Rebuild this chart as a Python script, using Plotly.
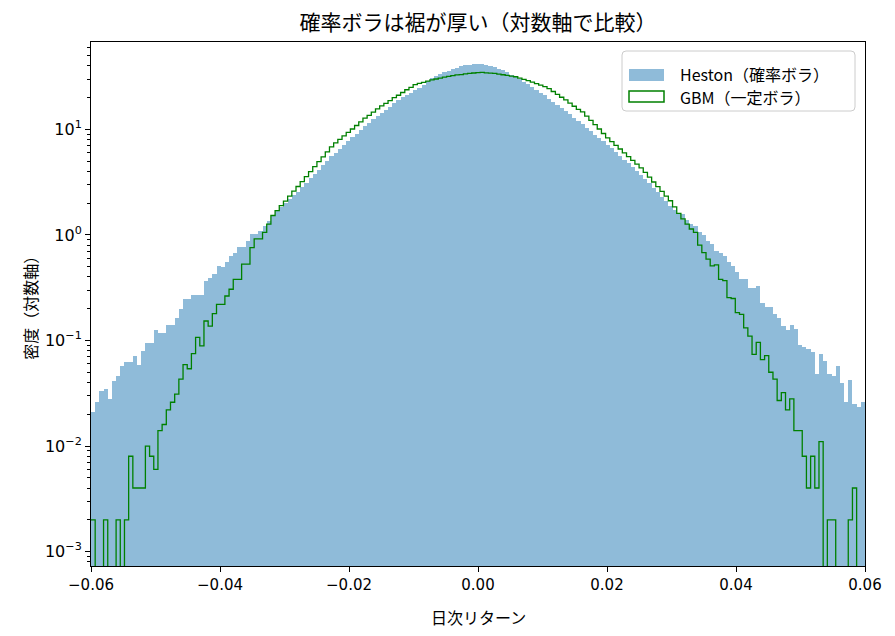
import numpy as np
import plotly.graph_objects as go

# histogram bins (daily return), 185 equal bins across the visible range
x_min, x_max, n_bins = -0.06, 0.06, 185

# density per bin
heston_density = [
    0.021, 0.026, 0.033, 0.035, 0.028, 0.041, 0.046, 0.057, 0.063, 0.063,
    0.071, 0.058, 0.079, 0.095, 0.095, 0.127, 0.119, 0.119, 0.141, 0.141,
    0.162, 0.20, 0.246, 0.246, 0.27, 0.27, 0.27, 0.367, 0.39, 0.43,
    0.51, 0.50, 0.557, 0.63, 0.68, 0.77, 0.77, 0.88, 1.02, 1.02,
    1.10, 1.23, 1.37, 1.56, 1.70, 1.86, 2.00, 2.19, 2.37, 2.57,
    2.85, 3.13, 3.47, 3.80, 4.17, 4.57, 5.01, 5.56, 6.03, 6.60,
    7.16, 7.76, 8.41, 9.12, 9.95, 10.8, 11.6, 12.5, 13.4, 14.4,
    15.4, 16.5, 17.7, 19.0, 20.1, 21.2, 22.4, 23.6, 24.9, 26.3,
    28.8, 30.9, 32.4, 33.5, 34.7, 35.9, 37.2, 38.5, 39.8, 40.7,
    41.2, 41.7, 41.9, 41.7, 41.2, 40.3, 38.9, 37.6, 36.3, 34.7,
    33.1, 31.6, 29.9, 28.2, 26.9, 25.1, 23.7, 22.4, 21.0, 19.6,
    18.3, 17.1, 15.9, 14.9, 13.9, 12.9, 12.1, 11.2, 10.4, 9.66,
    8.95, 8.32, 7.73, 7.18, 6.61, 6.10, 5.62, 5.18, 4.76, 4.39,
    4.05, 3.72, 3.39, 3.08, 2.79, 2.53, 2.30, 2.09, 1.89, 1.72,
    1.62, 1.58, 1.40, 1.27, 1.23, 1.06, 1.00, 0.88, 0.82, 0.71,
    0.68, 0.635, 0.55, 0.51, 0.45, 0.38, 0.38, 0.316, 0.316, 0.33,
    0.225, 0.21, 0.21, 0.177, 0.164, 0.137, 0.127, 0.139, 0.129, 0.090,
    0.087, 0.083, 0.077, 0.048, 0.074, 0.064, 0.048, 0.046, 0.057, 0.040,
    0.026, 0.042, 0.025, 0.0234, 0.026,
]

gbm_density = [
    0.002, 0, 0, 0.002, 0, 0, 0.002, 0, 0.002, 0.008,
    0.004, 0.004, 0.004, 0.010, 0.008, 0.006, 0.014, 0.016, 0.022, 0.026,
    0.031, 0.043, 0.059, 0.054, 0.075, 0.107, 0.089, 0.153, 0.137, 0.18,
    0.22, 0.22, 0.264, 0.306, 0.38, 0.38, 0.53, 0.53, 0.76, 0.92,
    0.92, 1.06, 1.27, 1.53, 1.70, 1.90, 2.09, 2.34, 2.60, 2.88,
    3.21, 3.58, 3.98, 4.45, 4.95, 5.51, 6.14, 6.84, 7.45, 8.04,
    8.69, 9.38, 10.1, 10.9, 11.8, 12.8, 13.6, 14.6, 15.7, 16.7,
    17.7, 18.8, 20.0, 21.1, 22.4, 23.8, 25.1, 26.6, 27.3, 28.0,
    28.7, 29.5, 30.1, 30.6, 31.3, 31.8, 32.4, 32.9, 33.1, 33.7,
    34.0, 34.3, 34.6, 34.7, 34.4, 34.2, 34.0, 33.5, 33.0, 32.6,
    32.1, 31.6, 30.7, 29.8, 29.0, 28.1, 27.2, 26.3, 25.5, 24.4,
    22.9, 21.5, 20.2, 19.1, 17.8, 16.6, 15.5, 14.7, 13.4, 12.2,
    11.1, 10.1, 9.16, 8.34, 7.67, 7.08, 6.53, 6.01, 5.53, 5.10,
    4.70, 4.33, 3.92, 3.53, 3.18, 2.87, 2.59, 2.34, 2.11, 1.85,
    1.60, 1.42, 1.27, 1.14, 1.06, 0.80, 0.68, 0.59, 0.51, 0.52,
    0.38, 0.37, 0.255, 0.25, 0.184, 0.177, 0.132, 0.11, 0.074, 0.096,
    0.066, 0.072, 0.05, 0.043, 0.027, 0.032, 0.022, 0.028, 0.014, 0.014,
    0.008, 0.004, 0.008, 0.004, 0.011, 0, 0.002, 0.002, 0, 0,
    0, 0.002, 0.004, 0, 0,
]

x_ticks = [-0.06, -0.04, -0.02, 0.0, 0.02, 0.04, 0.06]
y_tick_exps = [-3, -2, -1, 0, 1]

title = "確率ボラは裾が厚い（対数軸で比較）"
x_label = "日次リターン"
y_label = "密度（対数軸）"
heston_name = "Heston（確率ボラ）"
gbm_name = "GBM（一定ボラ）"

assert len(heston_density) == n_bins and len(gbm_density) == n_bins

JP_FONT = "Noto Sans CJK JP, sans-serif"
TICK_FONT = "DejaVu Sans, sans-serif"

edges = np.linspace(x_min, x_max, n_bins + 1)
centers = (edges[:-1] + edges[1:]) / 2
width = edges[1] - edges[0]

fig = go.Figure()

# Heston: filled histogram (C0 at alpha 0.5)
fig.add_trace(go.Bar(
    x=centers, y=heston_density, width=width,
    marker=dict(color="rgba(31,119,180,0.5)", line=dict(width=0)),
    showlegend=False,
))

# GBM: step outline; empty bins drop below the log axis
gbm_y = np.array(gbm_density, dtype=float)
gbm_y = np.where(gbm_y > 0, gbm_y, 1e-6)
fig.add_trace(go.Scatter(
    x=edges, y=np.append(gbm_y, gbm_y[-1]),
    mode="lines", line=dict(color="green", width=1.3, shape="hv"),
    showlegend=False,
))

# minor ticks on log axis
minor_vals = [m * 10.0 ** k for k in range(-4, 2) for m in range(2, 10)]

# page body adds an 8px offset, so margins are shifted to land the axes
# at the same screen position as the reference
fig.update_layout(
    width=895, height=636,
    margin=dict(l=83, r=38, t=34, b=78),
    plot_bgcolor="white", paper_bgcolor="white",
    bargap=0,
    font=dict(family=JP_FONT, size=16, color="black"),
    title=dict(text=title, x=0.5, xref="paper", y=1 - 15 / 636, yanchor="middle",
               font=dict(size=21)),
    xaxis=dict(
        range=[x_min, x_max], tickvals=x_ticks, tickformat=".2f",
        tickfont=dict(family=TICK_FONT, size=15),
        ticks="outside", ticklen=5, tickcolor="black",
        showline=True, linecolor="black", linewidth=1, mirror=True,
        showgrid=False, zeroline=False,
    ),
    yaxis=dict(
        type="log", range=[-3.137, 1.829],
        tickvals=[10.0 ** e for e in y_tick_exps],
        ticktext=["10<sup>%s</sup>" % str(e).replace("-", "−") for e in y_tick_exps],
        tickfont=dict(family=TICK_FONT, size=16),
        ticks="outside", ticklen=5, tickcolor="black",
        minor=dict(tickvals=minor_vals, ticks="outside", ticklen=3, tickcolor="black"),
        showline=True, linecolor="black", linewidth=1, mirror=True,
        showgrid=False, zeroline=False,
    ),
)

# axis titles
fig.add_annotation(text=x_label, x=0.5, y=-0.097, xref="paper", yref="paper",
                   showarrow=False, yanchor="middle", font=dict(size=16))
fig.add_annotation(text=y_label, x=-0.079, y=0.5, xref="paper", yref="paper",
                   showarrow=False, textangle=-90, xanchor="center", font=dict(size=16))

# legend drawn by hand (filled patch + outlined patch like matplotlib)
def px_x(p):
    return (p - 91) / 774

def px_y(p):
    return (566 - p) / 524

lx0, lx1, ly0, ly1 = px_x(622), px_x(855), px_y(111), px_y(51)
rx, ry = 4 / 774, 4 / 524
path = (f"M {lx0 + rx},{ly1} L {lx1 - rx},{ly1} Q {lx1},{ly1} {lx1},{ly1 - ry} "
        f"L {lx1},{ly0 + ry} Q {lx1},{ly0} {lx1 - rx},{ly0} "
        f"L {lx0 + rx},{ly0} Q {lx0},{ly0} {lx0},{ly0 + ry} "
        f"L {lx0},{ly1 - ry} Q {lx0},{ly1} {lx0 + rx},{ly1} Z")
fig.add_shape(type="path", path=path, xref="paper", yref="paper",
              fillcolor="rgba(255,255,255,0.8)", line=dict(color="#cccccc", width=1))
fig.add_shape(type="rect", xref="paper", yref="paper",
              x0=px_x(629), x1=px_x(664), y0=px_y(81), y1=px_y(69),
              fillcolor="rgba(31,119,180,0.5)", line=dict(width=0))
fig.add_shape(type="rect", xref="paper", yref="paper",
              x0=px_x(629), x1=px_x(664), y0=px_y(102), y1=px_y(91),
              fillcolor="rgba(0,0,0,0)", line=dict(color="green", width=1.5))
fig.add_annotation(text=heston_name, x=px_x(679), y=px_y(74), xref="paper", yref="paper",
                   showarrow=False, xanchor="left", yanchor="middle", borderpad=0,
                   font=dict(size=16))
fig.add_annotation(text=gbm_name, x=px_x(679), y=px_y(97), xref="paper", yref="paper",
                   showarrow=False, xanchor="left", yanchor="middle", borderpad=0,
                   font=dict(size=16))

fig.write_html("out.html")
